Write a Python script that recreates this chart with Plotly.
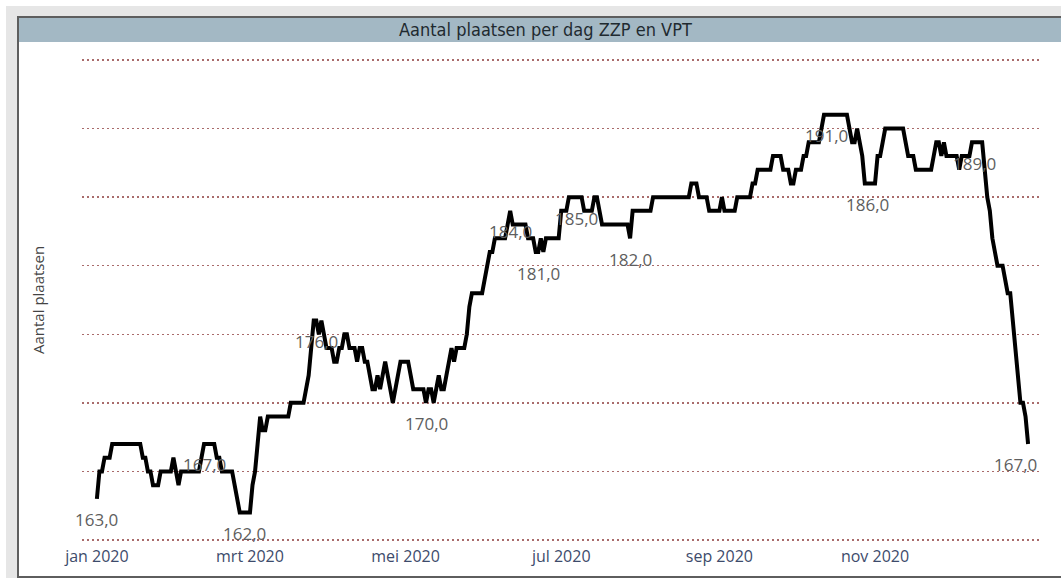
import pandas as pd
import plotly.graph_objects as go

# Daily values (Aantal plaatsen) per month, 2020
jan = [163, 165, 165, 166, 166, 166, 167, 167, 167, 167, 167, 167, 167, 167, 167, 167,
       167, 167, 166, 166, 165, 165, 164, 164, 164, 165, 165, 165, 165, 165, 166]
feb = [165, 164, 165, 165, 165, 165, 165, 165, 165, 165, 166, 167, 167, 167, 167, 167,
       166, 166, 165, 165, 165, 165, 165, 164, 163, 162, 162, 162, 162]
mrt = [162, 164, 165, 167, 169, 168, 168, 169, 169, 169, 169, 169, 169, 169, 169, 169,
       170, 170, 170, 170, 170, 170, 171, 172, 174, 176, 176, 175, 176, 175, 174]
apr = [174, 174, 173, 173, 174, 174, 175, 175, 174, 174, 174, 173, 174, 174, 173, 173,
       172, 171, 171, 172, 171, 172, 173, 172, 171, 170, 171, 172, 173, 173]
mei = [173, 173, 172, 171, 171, 171, 171, 171, 170, 171, 171, 170, 171, 172, 171, 171,
       172, 173, 174, 173, 174, 174, 174, 174, 175, 177, 178, 178, 178, 178, 178]
jun = [179, 180, 181, 181, 182, 182, 182, 182, 182, 183, 184, 183, 183, 183, 183, 183,
       183, 182, 182, 182, 181, 181, 182, 181, 182, 182, 182, 182, 182, 182]
jul = [184, 184, 184, 185, 185, 185, 185, 185, 185, 184, 184, 184, 184, 185, 185, 184,
       183, 183, 183, 183, 183, 183, 183, 183, 183, 183, 183, 182, 184, 184, 184]
aug = [184, 184, 184, 184, 184, 185, 185, 185, 185, 185, 185, 185, 185, 185, 185, 185,
       185, 185, 185, 185, 186, 186, 186, 185, 185, 185, 185, 184, 184, 184, 184]
sep = [184, 185, 184, 184, 184, 184, 184, 185, 185, 185, 185, 185, 185, 186, 186, 187,
       187, 187, 187, 187, 187, 188, 188, 188, 188, 187, 187, 187, 186, 186]
okt = [187, 187, 187, 188, 188, 189, 189, 189, 189, 189, 190, 191, 191, 191, 191, 191,
       191, 191, 191, 191, 191, 190, 189, 189, 190, 189, 188, 186, 186, 186, 186]
nov = [186, 188, 188, 189, 190, 190, 190, 190, 190, 190, 190, 190, 189, 188, 188, 188,
       187, 187, 187, 187, 187, 187, 187, 188, 189, 189, 188, 189, 188, 188]
dec = [188, 188, 188, 187, 188, 188, 188, 188, 189, 189, 189, 189, 189, 187, 185, 184,
       182, 181, 180, 180, 180, 179, 178, 178, 176, 174, 172, 170, 170, 169, 167]

values = jan + feb + mrt + apr + mei + jun + jul + aug + sep + okt + nov + dec
dates = pd.date_range("2020-01-01", periods=len(values), freq="D")

# Days (index into the series) that carry a data label
label_days = [0, 42, 58, 86, 129, 162, 173, 188, 209, 286, 302, 344, 365]

tick_dates = ["2020-01-01", "2020-03-01", "2020-05-01", "2020-07-01", "2020-09-01", "2020-11-01"]
tick_labels = ["jan 2020", "mrt 2020", "mei 2020", "jul 2020", "sep 2020", "nov 2020"]
grid_values = [160, 165, 170, 175, 180, 185, 190, 195]

TITLE = "Aantal plaatsen per dag ZZP en VPT"
Y_TITLE = "Aantal plaatsen"

# ---- layout geometry (pixels) ----
W, H = 1061, 578
L, R, T, B = 82, 21, 50, 33
PW, PH = W - L - R, H - T - B


def fx(px):
    return (px - L) / PW


def fy(py):
    return (H - B - py) / PH


fig = go.Figure()
fig.add_trace(go.Scatter(
    x=dates, y=values, mode="lines",
    line=dict(color="#000000", width=4),
    hoverinfo="skip", showlegend=False,
))

annotations = []
for d in label_days:
    v = values[d]
    annotations.append(dict(
        x=dates[d], y=v, xref="x", yref="y",
        text=f"{v:.1f}".replace(".", ","),
        showarrow=False, yshift=-21, xshift=(-13 if d == len(values) - 1 else 0),
        font=dict(family="Open Sans", size=17, color="#5e5e5e"),
    ))

annotations.append(dict(
    x=fx(545), y=fy(30), xref="paper", yref="paper", text=TITLE, showarrow=False,
    xanchor="center", yanchor="middle",
    font=dict(family="DejaVu Sans Condensed", size=18, color="#1f2a30"),
))
annotations.append(dict(
    x=fx(38), y=fy(300), xref="paper", yref="paper", text=Y_TITLE, showarrow=False,
    textangle=-90, xanchor="center", yanchor="middle",
    font=dict(family="Open Sans", size=15, color="#444444"),
))

shapes = [
    dict(type="rect", xref="paper", yref="paper", layer="below",
         x0=fx(6), x1=fx(1100), y0=fy(620), y1=fy(6),
         fillcolor="#e6e6e6", line=dict(width=0)),
    dict(type="rect", xref="paper", yref="paper", layer="below",
         x0=fx(18), x1=fx(1100), y0=fy(577), y1=fy(17),
         fillcolor="#ffffff", line=dict(color="#5e5e5e", width=2)),
    dict(type="rect", xref="paper", yref="paper", layer="below",
         x0=fx(19), x1=fx(1100), y0=fy(42), y1=fy(18),
         fillcolor="#a3b8c4", line=dict(width=0)),
]

fig.update_layout(
    width=W, height=H,
    margin=dict(l=L, r=R, t=T, b=B, pad=0),
    paper_bgcolor="#ffffff",
    plot_bgcolor="rgba(0,0,0,0)",
    annotations=annotations,
    shapes=shapes,
    showlegend=False,
    xaxis=dict(
        type="date",
        range=["2019-12-26 04:00", "2021-01-04 16:00"],
        tickvals=tick_dates, ticktext=tick_labels,
        showgrid=False, zeroline=False, showline=False, ticks="",
        tickfont=dict(family="Open Sans", size=16, color="#3d4b6b"),
        fixedrange=True,
    ),
    yaxis=dict(
        range=[159.635, 195.729],
        tickvals=grid_values, showticklabels=False,
        showgrid=True, gridcolor="#a96b6b", griddash="2px,3px", gridwidth=1.5,
        zeroline=False, showline=False, ticks="",
        fixedrange=True,
    ),
)

fig.write_html(
    "out.html",
    config={"displayModeBar": False, "staticPlot": True},
    post_script="document.body.style.margin='0px';document.body.style.overflow='hidden';",
)
